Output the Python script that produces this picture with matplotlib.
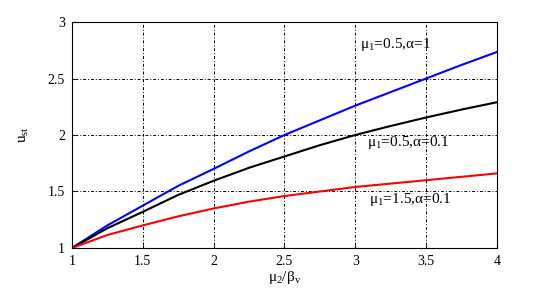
import matplotlib.pyplot as plt
import numpy as np

plt.rcParams['font.family'] = ['Liberation Serif', 'DejaVu Serif']
plt.rcParams['mathtext.fontset'] = 'custom'
plt.rcParams['mathtext.rm'] = 'Liberation Serif'
plt.rcParams['mathtext.it'] = 'Liberation Serif'

# ratio mu2/beta_v
x = [1.0, 1.25, 1.5, 1.75, 2.0, 2.25, 2.5, 2.75, 3.0, 3.25, 3.5, 3.75, 4.0]
# u_st for each case
u_blue = [1.0, 1.20, 1.375, 1.55, 1.70, 1.855, 2.0, 2.13, 2.26, 2.38, 2.50, 2.62, 2.735]
u_black = [1.0, 1.175, 1.32, 1.47, 1.595, 1.71, 1.81, 1.91, 2.0, 2.08, 2.155, 2.225, 2.29]
u_red = [1.0, 1.115, 1.20, 1.28, 1.35, 1.41, 1.46, 1.50, 1.54, 1.57, 1.60, 1.63, 1.66]

fig = plt.figure(figsize=(5.49, 2.93), dpi=100)
ax = fig.add_axes([0.1311, 0.1536, 0.7741, 0.7713])

ax.plot(x, u_blue, color='#0000ff', lw=1.5)
ax.plot(x, u_black, color='black', lw=1.5)
ax.plot(x, u_red, color='#ff0000', lw=1.5)

ax.set_xlim(1, 4)
ax.set_ylim(1, 3)
ax.set_xticks([1, 1.5, 2, 2.5, 3, 3.5, 4])
ax.set_xticklabels(['1', '1.5', '2', '2.5', '3', '3.5', '4'])
ax.set_yticks([1, 1.5, 2, 2.5, 3])
ax.set_yticklabels(['1', '1.5', '2', '2.5', '3'])
ax.grid(True, color='black', linestyle=(0, (1, 2, 3, 2)), linewidth=0.7)
ax.tick_params(direction='in', length=2, labelsize=10, colors='black', pad=5)
for s in ax.spines.values():
    s.set_linewidth(0.8)

ax.set_xlabel(r'$\mathrm{\mu_2/\beta_v}$', fontsize=11, labelpad=1)
ax.set_ylabel(r'$\mathrm{u_{st}}$', fontsize=11, labelpad=12)

ax.text(3.03, 2.80, r'$\mathrm{\mu_1}$=0.5,$\mathrm{\alpha}$=1', fontsize=11, va='center')
ax.text(3.08, 1.93, r'$\mathrm{\mu_1}$=0.5,$\mathrm{\alpha}$=0.1', fontsize=11, va='center')
ax.text(3.1, 1.43, r'$\mathrm{\mu_1}$=1.5,$\mathrm{\alpha}$=0.1', fontsize=11, va='center')

fig.savefig('out.png', dpi=100)
